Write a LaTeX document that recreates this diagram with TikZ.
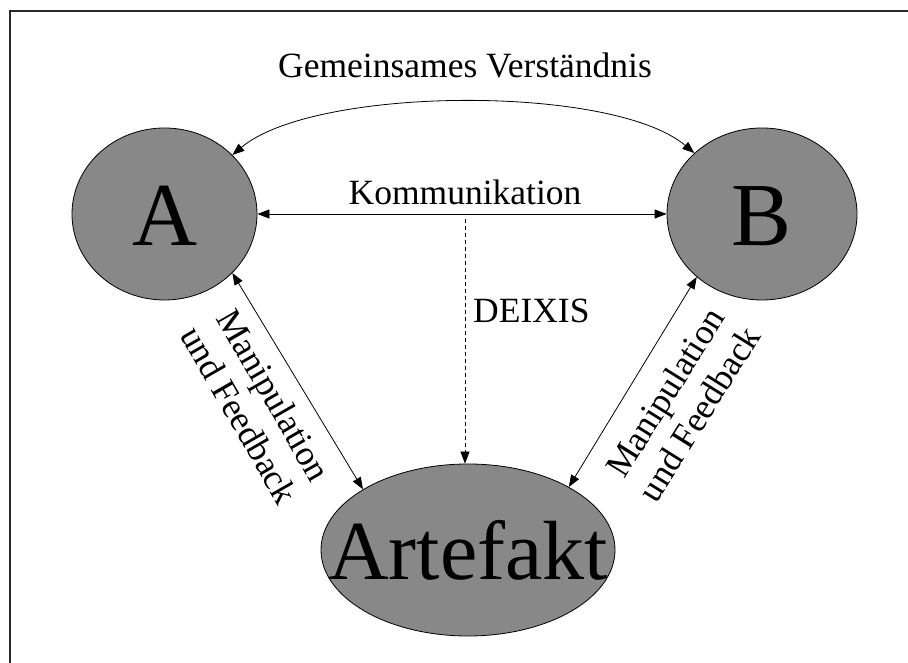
\documentclass[tikz,border=0pt]{standalone}
\usepackage{fontspec}
\setmainfont{Liberation Serif}
\usetikzlibrary{shapes.geometric,arrows.meta}
\definecolor{blobgray}{RGB}{136,136,136}
\definecolor{framegray}{RGB}{40,40,40}
\begin{document}
\begin{tikzpicture}[x=1pt,y=1pt,
  blob/.style={ellipse, draw=black, line width=0.8pt, fill=blobgray, inner sep=0pt},
  tip/.tip={Triangle[length=12pt,width=9pt]},
  link/.style={line width=0.8pt, tip-tip},
  pointer/.style={line width=0.8pt, -tip},
  txt/.style={font=\fontsize{35.5}{40}\selectfont, inner sep=0pt},
  big/.style={font=\fontsize{90}{90}\selectfont},
  bigart/.style={font=\fontsize{84}{84}\selectfont},
]
\useasboundingbox (0,0) rectangle (908,663);
% open frame: left and top edge
\draw[line width=1.4pt, framegray] (10,0) -- (10,652) -- (908,652);

% the three parties
\node[blob, minimum width=185pt, minimum height=172pt, label={[big, yshift=-2pt]center:A}] (A) at (164.5,449) {};
\node[blob, minimum width=190pt, minimum height=172pt, label={[big, yshift=-2pt]center:B}] (B) at (762,449) {};
\node[blob, minimum width=294pt, minimum height=172pt, label={[bigart]center:Artefakt}] (Art) at (468,113) {};

% shared understanding
\node[txt, anchor=base] (gv) at (465,585) {Gemeinsames Verständnis};
\draw[link] (A.41) .. controls +(82,69) and +(-82,69) .. (B.138);

% communication
\draw[link] (A.east) -- node[txt, midway, above=9pt, xshift=3pt] (komm) {Kommunikation} (B.west);

% deixis
\coordinate (dstart) at (465,444);
\draw[pointer, dashed, dash pattern=on 4pt off 3pt] (dstart) -- (dstart |- Art.north);
\node[txt, anchor=base west] (deixis) at (473,340) {DEIXIS};

% manipulation and feedback
\draw[link] (A.-41) -- (Art.150);
\draw[link] (B.-136) -- (Art.32);
\node[txt, align=center, rotate=-60] (mfl) at (257,258) {Manipulation\\und Feedback};
\node[txt, align=center, rotate=58] (mfr) at (682,260) {Manipulation\\und Feedback};
\end{tikzpicture}
\end{document}
